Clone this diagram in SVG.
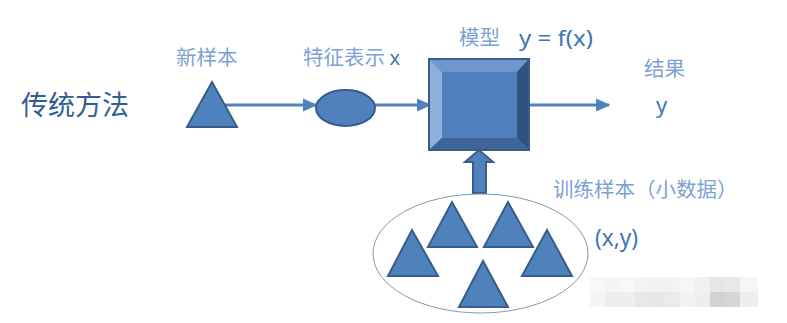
<svg xmlns="http://www.w3.org/2000/svg" width="787" height="323" viewBox="0 0 787 323">
<defs>
<style>
.cjk{font-family:"Noto Sans CJK SC","Noto Sans",sans-serif;fill:#7da2d2;font-size:20.5px}
.lat{font-family:"Noto Sans","Noto Sans CJK SC",sans-serif;fill:#3f74b5;font-size:22px}
.shape{fill:#4f81bd;stroke:#385d8a;stroke-width:2;stroke-linejoin:miter}
.line{stroke:#4f81bd;stroke-width:3;fill:none}
</style>
<marker id="ah" viewBox="0 0 10 10" refX="9" refY="5" markerWidth="5" markerHeight="4.5" markerUnits="strokeWidth" orient="auto" preserveAspectRatio="none">
<path d="M0,0 L10,5 L0,10 z" fill="#4f81bd"/>
</marker>
</defs>
<rect width="787" height="323" fill="#ffffff"/>

<g id="title">
<text x="21" y="115" style="font-family:'Noto Sans CJK SC',sans-serif;font-size:27px;fill:#335e90">传统方法</text>
</g>

<g id="connectors">
<line class="line" x1="225" y1="105" x2="316" y2="105" marker-end="url(#ah)"/>
<line class="line" x1="375" y1="105" x2="430" y2="105" marker-end="url(#ah)"/>
<line class="line" x1="529" y1="105" x2="609" y2="105" marker-end="url(#ah)"/>
<path d="M473,193 L473,162 L465,162 L479,150 L493,162 L486,162 L486,193 Z" class="shape" stroke-width="1.5"/>
</g>

<g id="new-sample">
<text class="cjk" x="176" y="65">新样本</text>
<polygon class="shape" points="212,82 187,127 237,127"/>
</g>

<g id="feature">
<text class="cjk" x="303" y="65">特征表示 <tspan class="lat" style="font-size:20px">x</tspan></text>
<ellipse class="shape" cx="345.5" cy="108" rx="29.5" ry="18"/>
</g>

<g id="model">
<text class="cjk" x="459" y="45">模型</text>
<text class="lat" x="519" y="46" textLength="74" lengthAdjust="spacingAndGlyphs">y = f(x)</text>
<rect x="429" y="59" width="100" height="91" fill="#4f81bd"/>
<polygon points="429,59 529,59 517,72 442,72" fill="#7097cb"/>
<polygon points="429,59 442,72 442,138 429,150" fill="#8eaedb"/>
<polygon points="529,59 529,150 517,138 517,72" fill="#2f5283"/>
<polygon points="429,150 442,138 517,138 529,150" fill="#3c6699"/>
<rect x="442" y="72" width="75" height="66" fill="#4f7fbd"/>
<rect x="429" y="59" width="100" height="91" fill="none" stroke="#385d8a" stroke-width="2"/>
</g>

<g id="result">
<text class="cjk" x="644" y="76">结果</text>
<text class="lat" x="656" y="113">y</text>
</g>

<g id="training">
<text class="cjk" x="553" y="197">训练样本（小数据）</text>
<text class="lat" x="595" y="246" style="font-size:23px" textLength="43" lengthAdjust="spacingAndGlyphs">(x,y)</text>
<ellipse cx="480.5" cy="253.5" rx="107.5" ry="59.5" fill="#ffffff" stroke="#7f96b8" stroke-width="1"/>
<polygon class="shape" points="412,230 388,276 438,276"/>
<polygon class="shape" points="452,202 428,247 477,247"/>
<polygon class="shape" points="508,202 484,247 533,247"/>
<polygon class="shape" points="547,230 522,276 572,276"/>
<polygon class="shape" points="483,261 459,307 508,307"/>
</g>

<g id="mosaic">
<rect x="590" y="277" width="15" height="15" fill="#f8f8f8"/>
<rect x="605" y="277" width="15" height="15" fill="#f5f5f5"/>
<rect x="620" y="277" width="15" height="15" fill="#f8f8f8"/>
<rect x="635" y="277" width="15" height="15" fill="#f3f3f3"/>
<rect x="650" y="277" width="15" height="15" fill="#f2f2f2"/>
<rect x="665" y="277" width="15" height="15" fill="#f3f3f3"/>
<rect x="680" y="277" width="15" height="15" fill="#f6f6f6"/>
<rect x="695" y="277" width="15" height="15" fill="#f0f0f0"/>
<rect x="710" y="277" width="15" height="15" fill="#e6e6e6"/>
<rect x="725" y="277" width="15" height="15" fill="#e8e8e8"/>
<rect x="740" y="277" width="18" height="15" fill="#f6f6f6"/>
<rect x="590" y="292" width="15" height="15" fill="#f5f5f5"/>
<rect x="605" y="292" width="15" height="15" fill="#eeeeee"/>
<rect x="620" y="292" width="15" height="15" fill="#eeeeee"/>
<rect x="635" y="292" width="15" height="15" fill="#e8e8e8"/>
<rect x="650" y="292" width="15" height="15" fill="#e6e6e6"/>
<rect x="665" y="292" width="15" height="15" fill="#eaeaea"/>
<rect x="680" y="292" width="15" height="15" fill="#f2f2f2"/>
<rect x="695" y="292" width="15" height="15" fill="#eeeeee"/>
<rect x="710" y="292" width="15" height="15" fill="#d2d2d2"/>
<rect x="725" y="292" width="15" height="15" fill="#d6d6d6"/>
<rect x="740" y="292" width="18" height="15" fill="#eeeeee"/>
</g>
</svg>
